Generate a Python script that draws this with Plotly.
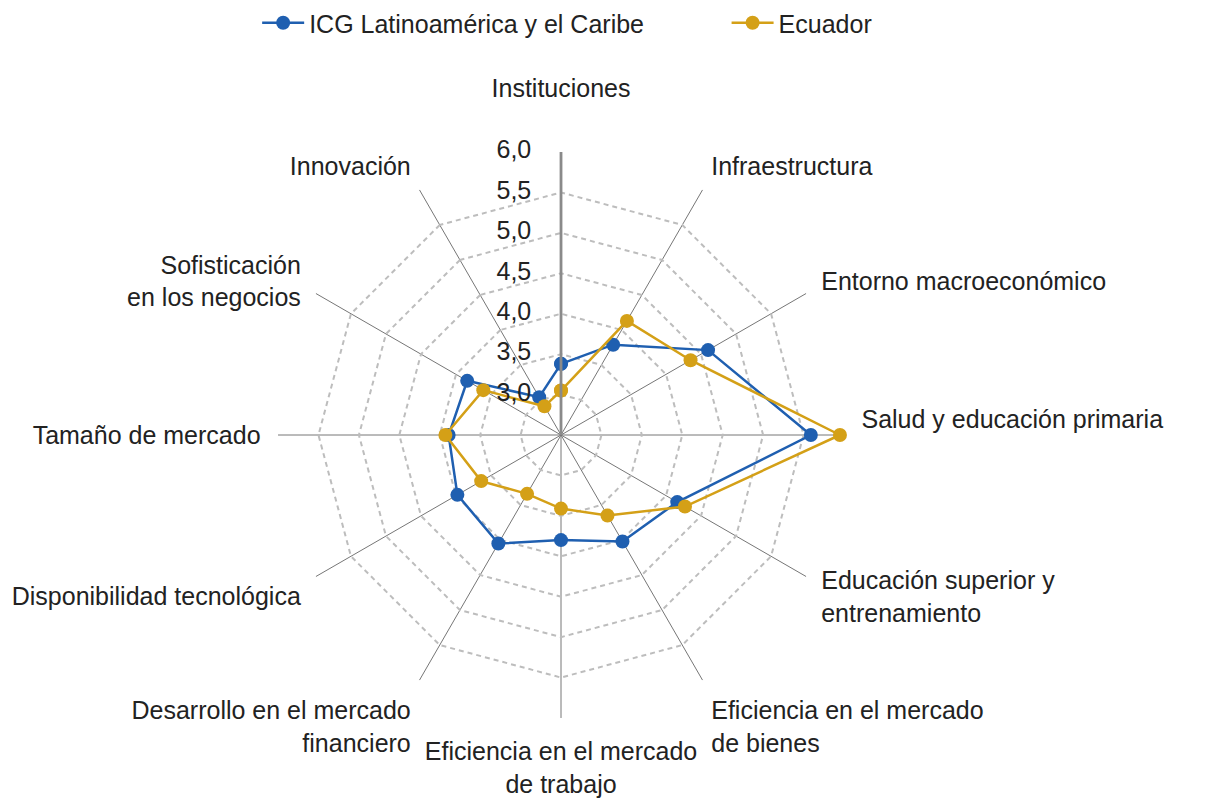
import plotly.graph_objects as go

# Pilares del Índice de Competitividad Global
pilares = [
    "Instituciones",
    "Infraestructura",
    "Entorno macroeconómico",
    "Salud y educación primaria",
    "Educación superior y entrenamiento",
    "Eficiencia en el mercado de bienes",
    "Eficiencia en el mercado de trabajo",
    "Desarrollo en el mercado financiero",
    "Disponibilidad tecnológica",
    "Tamaño de mercado",
    "Sofisticación en los negocios",
    "Innovación",
]

# Rótulos del eje angular (saltos de línea y renglones vacíos para el espaciado)
rotulos = [
    "Instituciones<br>\u00a0",
    "Infraestructura",
    "Entorno macroeconómico",
    "Salud y educación primaria<br>\u00a0",
    "Educación superior y<br>entrenamiento<br>\u00a0",
    "Eficiencia en el mercado<br>de bienes",
    "Eficiencia en el mercado<br>de trabajo",
    "Desarrollo en el mercado<br>financiero",
    "Disponibilidad tecnológica",
    "Tamaño de mercado",
    "\u00a0<br>Sofisticación<br>en los negocios",
    "Innovación",
]

icg_latam = [3.38, 3.79, 4.60, 5.59, 4.16, 4.02, 3.80, 4.05, 3.98, 3.89, 3.84, 3.04]
ecuador = [3.05, 4.13, 4.35, 5.95, 4.27, 3.65, 3.41, 3.34, 3.64, 3.93, 3.61, 2.91]

radial_ticks = [2.5, 3.0, 3.5, 4.0, 4.5, 5.0, 5.5, 6.0]
radial_labels = [f"{v:.1f}".replace(".", ",") for v in radial_ticks]

AZUL = "#1f5fb0"
DORADO = "#d4a017"
TEXTO = "#222222"
FUENTE = "Liberation Sans, Arial, sans-serif"


def cerrar(valores):
    return valores + valores[:1]


fig = go.Figure()
for nombre, valores, color, leyenda in [
    ("ICG Latinoamérica y el Caribe", icg_latam, AZUL, "legend"),
    ("Ecuador", ecuador, DORADO, "legend2"),
]:
    fig.add_trace(
        go.Scatterpolar(
            r=cerrar(valores),
            theta=cerrar(pilares),
            name=nombre,
            mode="lines+markers",
            line=dict(color=color, width=2.5),
            marker=dict(color=color, size=14),
            legend=leyenda,
        )
    )

# Etiquetas horizontales de la escala radial, a la izquierda del eje vertical
fig.add_trace(
    go.Scatterpolar(
        r=radial_ticks,
        theta=[pilares[0]] * len(radial_ticks),
        text=radial_labels,
        mode="markers+text",
        textposition="middle left",
        textfont=dict(family=FUENTE, size=25, color=TEXTO),
        marker=dict(size=46, opacity=0),
        showlegend=False,
        hoverinfo="skip",
    )
)

leyenda_base = dict(
    orientation="h",
    xanchor="left",
    y=1.0,
    yanchor="top",
    font=dict(family=FUENTE, size=25, color=TEXTO),
    itemwidth=42,
    bgcolor="rgba(0,0,0,0)",
)

fig.update_layout(
    width=1213,
    height=810,
    margin=dict(l=0, r=0, t=0, b=0),
    paper_bgcolor="white",
    plot_bgcolor="white",
    font=dict(family=FUENTE, size=25, color=TEXTO),
    legend=dict(leyenda_base, x=0.212),
    legend2=dict(leyenda_base, x=0.599),
    polar=dict(
        domain=dict(x=[0.2292, 0.6958], y=[0.1136, 0.8123]),
        bgcolor="white",
        gridshape="linear",
        radialaxis=dict(
            range=[2.5, 6.0],
            tickvals=radial_ticks,
            showticklabels=False,
            angle=90,
            showline=True,
            linecolor="#8a8a8a",
            linewidth=2.8,
            gridcolor="#bdbdbd",
            griddash="5px,4px",
            gridwidth=1.5,
            ticks="",
        ),
        angularaxis=dict(
            direction="clockwise",
            rotation=90,
            tickmode="array",
            tickvals=pilares,
            ticktext=rotulos,
            showline=False,
            gridcolor="#767676",
            gridwidth=1.4,
            ticks="outside",
            ticklen=12,
            tickcolor="rgba(0,0,0,0)",
            tickfont=dict(family=FUENTE, size=25, color=TEXTO),
        ),
    ),
)

fig.write_html("out.html")
